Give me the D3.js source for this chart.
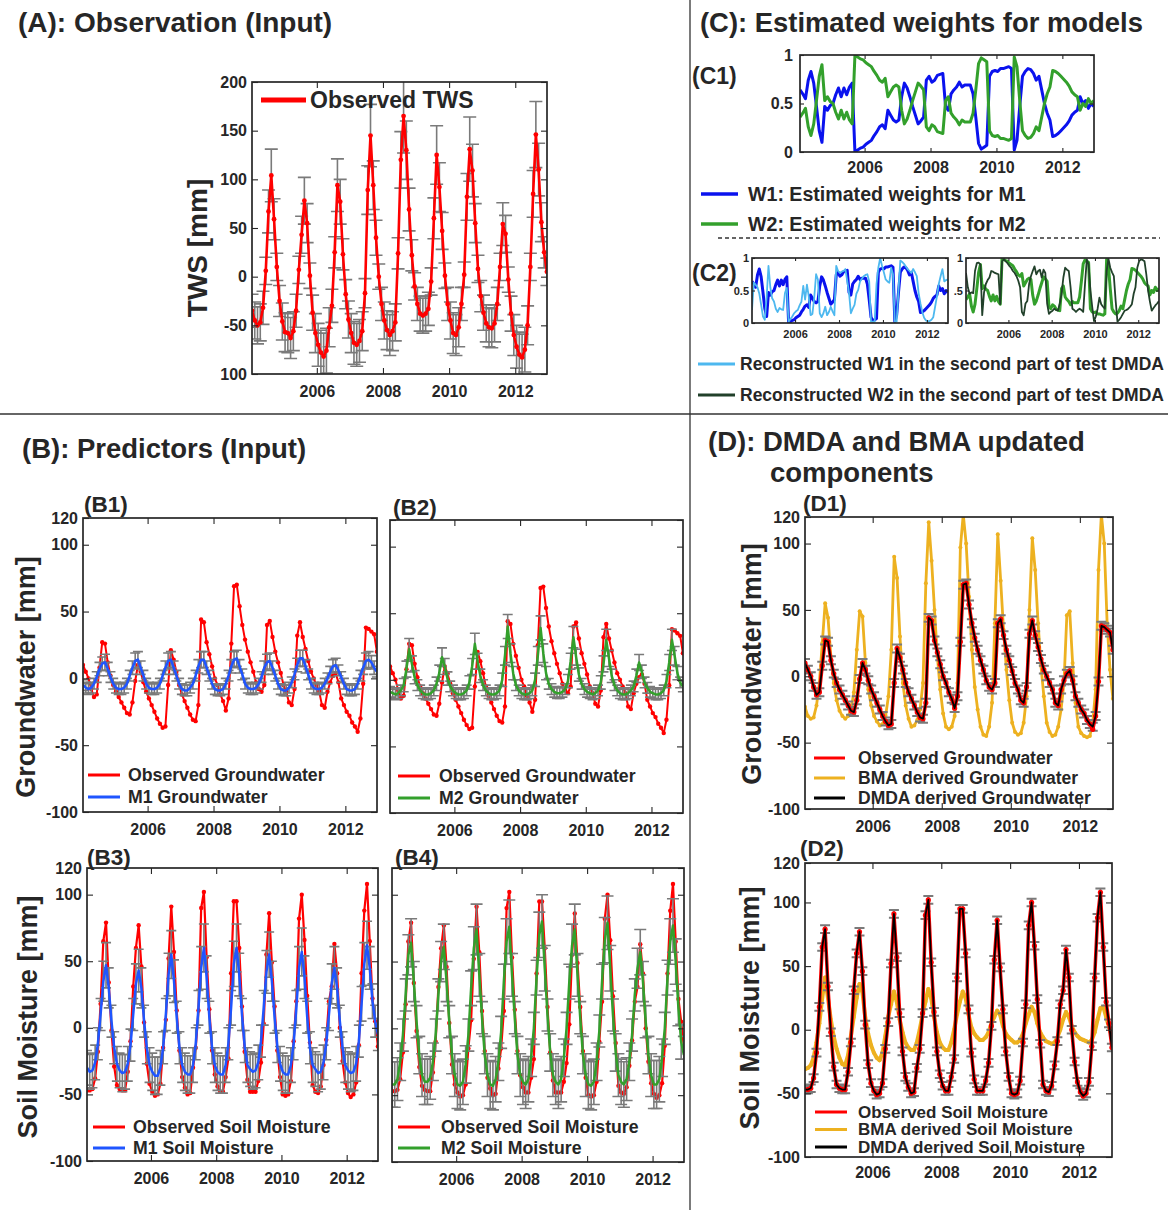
<!DOCTYPE html>
<html><head><meta charset="utf-8">
<script src="https://cdn.jsdelivr.net/npm/d3@7"></script>
<style>
body{margin:0;background:#fff}
text{font-family:"Liberation Sans",Arial,Helvetica,sans-serif;font-weight:bold;fill:#262626}
</style>
</head><body>
<svg id="c" width="1172" height="1210"></svg>
<script>
// ---------------- DATA (monthly, Jan 2004 .. Dec 2012) ----------------
const xDomain = [2004.04, 2012.96];
const xTickYears = [2006, 2008, 2010, 2012];

const twsObs = [
 -35,-45,-50,-47,-32,6,67,104,59,10,-25,-46,
 -57,-58,-63,-56,-35,7,43,78,55,1,-37,-58,
 -70,-78,-82,-76,-52,-30,25,94,77,23,-18,-44,
 -58,-68,-70,-66,-56,-17,89,145,94,40,0,-28,
 -45,-55,-60,-56,-47,24,120,165,130,69,22,-10,
 -28,-38,-40,-38,-33,-5,60,125,92,47,1,-28,
 -45,-58,-60,-52,-28,2,82,131,109,55,8,-20,
 -37,-48,-52,-53,-48,-28,10,54,44,-3,-38,-60,
 -72,-80,-83,-75,-50,10,85,146,110,56,25,5];
const twsErr = [
 17,19,19,19,17,14,22,27,21,14,16,19,
 20,20,21,20,17,14,19,24,20,13,18,20,
 22,23,24,23,20,17,16,27,23,16,15,19,
 20,22,22,22,20,15,25,32,25,18,13,17,
 19,20,21,20,19,16,29,38,30,22,16,14,
 17,18,18,18,17,14,21,30,25,19,13,17,
 19,21,21,20,17,13,24,33,27,20,14,16,
 18,19,20,20,19,17,14,22,19,13,18,21,
 22,23,24,23,20,14,24,34,27,20,16,14];

const gwObs = [
 10,5,0,-8,-14,-12,8,27,26,12,2,-5,
 -10,-14,-18,-22,-26,-27,-18,-2,10,5,-3,-10,
 -15,-20,-25,-30,-34,-37,-36,-5,21,14,5,-5,
 -12,-17,-22,-27,-31,-32,-20,44,42,27,18,9,
 0,-5,-12,-17,-24,-15,26,69,70,54,40,29,
 20,12,5,-3,-8,-10,-5,40,43,31,20,12,
 4,-5,-10,-18,-20,-8,32,42,31,22,13,5,
 0,-5,-10,-20,-22,-10,-3,2,4,-3,-15,-20,
 -25,-28,-33,-36,-40,-30,-4,38,37,35,33,20];
const gwM1 = [
 -5,-7,-8,-7,-4,1,7,11,12,7,1,-4,
 -7,-8,-8,-7,-4,2,8,13,14,8,2,-4,
 -7,-8,-8,-7,-4,2,8,13,14,8,2,-4,
 -8,-9,-9,-7,-4,2,9,14,14,8,2,-4,
 -8,-9,-9,-8,-4,2,9,14,15,9,3,-4,
 -7,-8,-8,-7,-4,1,8,12,13,8,2,-4,
 -8,-9,-9,-7,-3,3,10,15,15,9,3,-4,
 -7,-8,-8,-7,-4,0,5,9,10,6,1,-4,
 -8,-9,-9,-8,-4,2,8,13,14,12,8,5];
const gwM1Err = [
 4,4,4,4,4,4,5,5,6,5,4,4,
 4,4,4,4,4,4,5,6,6,5,4,4,
 4,4,4,4,4,4,5,6,6,5,4,4,
 4,4,4,4,4,4,5,6,6,5,4,4,
 4,4,4,4,4,4,5,6,6,5,4,4,
 4,4,4,4,4,4,5,6,6,5,4,4,
 4,4,4,4,4,4,5,6,6,5,4,4,
 4,4,4,4,4,4,4,5,5,4,4,4,
 4,4,4,4,4,4,5,6,6,5,5,4];
const gwM2 = [
 -9,-10,-11,-10,-8,-4,8,23,12,2,-4,-8,
 -10,-11,-11,-10,-8,-3,5,17,10,1,-5,-8,
 -10,-11,-11,-10,-8,-2,10,27,14,3,-4,-8,
 -10,-11,-11,-10,-8,0,18,40,20,5,-4,-8,
 -10,-11,-11,-10,-8,0,18,39,20,5,-3,-7,
 -9,-10,-10,-9,-7,-1,14,32,17,4,-3,-7,
 -9,-10,-11,-10,-8,-2,12,30,16,3,-4,-8,
 -10,-11,-11,-10,-8,-5,3,13,6,-2,-6,-9,
 -10,-11,-11,-10,-8,-1,13,30,18,5,-2,-5];
const gwM2Err = [
 4,4,4,4,4,5,6,8,6,5,4,4,
 4,4,4,4,4,5,6,7,6,5,4,4,
 4,4,4,4,4,5,6,8,6,5,4,4,
 4,4,4,4,4,5,7,9,7,5,4,4,
 4,4,4,4,4,5,7,9,7,5,4,4,
 4,4,4,4,4,5,6,8,6,5,4,4,
 4,4,4,4,4,5,6,8,6,5,4,4,
 4,4,4,4,4,4,5,6,5,4,4,4,
 4,4,4,4,4,5,6,8,7,5,4,4];

const smObs = [
 -47,-47,-46,-38,-18,18,65,79,34,-2,-29,-43,
 -46,-47,-47,-33,-10,31,60,77,46,4,-27,-42,
 -48,-51,-50,-42,-15,6,52,91,57,13,-17,-37,
 -45,-50,-49,-30,-15,13,90,102,53,14,-17,-35,
 -44,-48,-48,-37,-23,41,95,95,60,16,-18,-39,
 -48,-48,-48,-40,-26,3,55,86,49,16,-17,-37,
 -50,-51,-50,-40,-10,20,82,100,66,24,-11,-43,
 -48,-49,-44,-28,-9,20,31,63,41,0,-25,-41,
 -49,-52,-50,-41,-13,41,88,108,65,22,5,-14];
const smM1 = [
 -30,-33,-32,-26,-12,10,35,47,30,5,-15,-27,
 -32,-34,-33,-27,-13,10,33,43,30,5,-15,-28,
 -33,-36,-36,-30,-15,10,40,55,35,8,-15,-28,
 -33,-35,-35,-28,-12,15,45,60,38,8,-15,-28,
 -33,-35,-35,-28,-12,15,48,60,40,10,-14,-28,
 -31,-33,-32,-26,-10,15,42,55,35,8,-14,-27,
 -33,-35,-35,-28,-12,15,45,57,38,8,-15,-28,
 -31,-34,-33,-26,-12,10,33,45,30,5,-15,-28,
 -32,-34,-33,-27,-10,18,48,62,45,20,5,-5];
const smM1Err = [
 13,13,13,13,12,12,15,17,15,12,12,13,
 13,14,13,13,12,12,15,16,15,12,12,13,
 14,14,14,13,12,12,16,18,16,12,12,13,
 14,14,14,13,12,13,16,18,16,12,12,13,
 14,14,14,13,12,13,17,18,16,12,12,13,
 13,13,13,13,12,13,16,17,15,12,12,13,
 14,14,14,13,12,13,16,18,16,12,12,13,
 13,14,13,13,12,12,15,16,15,12,12,13,
 14,14,14,13,12,13,16,18,16,13,12,12];
const smM2 = [
 -42,-42,-38,-25,-5,25,55,64,35,5,-20,-35,
 -40,-40,-37,-25,-5,25,50,61,35,5,-20,-35,
 -42,-43,-40,-27,-5,30,60,74,40,8,-20,-35,
 -42,-43,-38,-25,-3,35,65,76,40,8,-20,-35,
 -40,-42,-38,-22,0,38,70,80,45,10,-18,-35,
 -40,-42,-38,-22,0,35,62,74,40,8,-20,-35,
 -42,-43,-40,-25,-2,35,66,79,45,10,-18,-35,
 -40,-42,-38,-25,-5,25,45,57,35,5,-20,-35,
 -42,-42,-38,-22,0,38,65,77,50,15,-10,-20];
const smM2Err = [
 17,17,16,14,12,12,15,18,15,12,14,16,
 17,17,16,14,12,12,15,17,15,12,14,16,
 18,18,17,14,12,13,16,19,16,12,14,16,
 18,18,17,14,12,13,17,20,16,12,14,16,
 17,18,17,14,12,13,17,20,17,12,14,16,
 17,18,17,14,12,13,16,19,16,12,14,16,
 18,18,17,14,12,13,17,20,17,12,14,16,
 17,17,16,14,12,12,15,17,15,12,14,16,
 18,18,17,14,12,13,17,20,17,13,13,14];

const w1 = [
 0.64,0.60,0.55,0.74,0.83,0.71,0.47,0.22,0.10,0.47,0.43,0.48,
 0.50,0.59,0.66,0.57,0.66,0.59,0.67,0.71,0.00,0.02,0.04,0.05,
 0.08,0.10,0.12,0.17,0.21,0.26,0.28,0.24,0.43,0.38,0.33,0.31,
 0.33,0.57,0.71,0.66,0.57,0.47,0.38,0.29,0.32,0.36,0.74,0.78,
 0.72,0.74,0.79,0.80,0.81,0.47,0.43,0.60,0.64,0.67,0.72,0.67,
 0.69,0.69,0.69,0.60,0.36,0.09,0.03,0.05,0.07,0.78,0.83,0.84,
 0.83,0.86,0.86,0.87,0.88,0.86,0.02,0.12,0.47,0.78,0.83,0.86,
 0.85,0.81,0.74,0.78,0.64,0.50,0.40,0.33,0.16,0.17,0.19,0.22,
 0.25,0.28,0.32,0.38,0.41,0.43,0.57,0.50,0.53,0.45,0.50,0.47];
const w2 = [
 0.36,0.40,0.45,0.26,0.17,0.29,0.53,0.78,0.90,0.53,0.57,0.52,
 0.50,0.41,0.34,0.43,0.34,0.41,0.33,0.29,1.00,0.98,0.96,0.95,
 0.92,0.90,0.88,0.83,0.79,0.74,0.72,0.76,0.57,0.62,0.67,0.69,
 0.67,0.43,0.29,0.34,0.43,0.53,0.62,0.71,0.68,0.64,0.26,0.22,
 0.28,0.26,0.21,0.20,0.19,0.53,0.57,0.40,0.36,0.33,0.28,0.33,
 0.31,0.31,0.31,0.40,0.64,0.91,0.97,0.95,0.93,0.22,0.17,0.16,
 0.17,0.14,0.14,0.13,0.12,0.14,0.98,0.88,0.53,0.22,0.17,0.14,
 0.15,0.19,0.26,0.22,0.36,0.50,0.60,0.67,0.84,0.83,0.81,0.78,
 0.75,0.72,0.68,0.62,0.59,0.57,0.43,0.50,0.47,0.55,0.50,0.53];
const w1Rec = [
 0.20,0.62,0.59,0.55,0.45,0.28,0.10,0.05,0.40,0.88,0.55,0.38,
 0.33,0.22,0.17,0.23,0.21,0.20,0.46,0.54,0.02,0.06,0.10,0.15,
 0.18,0.20,0.27,0.33,0.57,0.36,0.59,0.41,0.12,0.14,0.40,0.75,
 0.67,0.15,0.09,0.15,0.25,0.12,0.17,0.25,0.18,0.12,0.88,0.80,
 0.77,0.79,0.80,0.83,0.65,0.46,0.15,0.22,0.28,0.45,0.51,0.64,
 0.68,0.72,0.74,0.75,0.64,0.02,0.02,0.02,0.60,0.85,1.00,0.88,
 0.78,0.67,0.64,0.62,0.85,0.75,0.02,0.02,0.50,0.96,0.94,0.91,
 0.87,0.83,0.80,0.77,0.83,0.78,0.72,0.46,0.30,0.17,0.08,0.04,
 0.03,0.03,0.05,0.09,0.25,0.41,0.60,0.72,0.83,0.64,0.66,0.67];
const w2Rec = [
 0.77,0.55,0.45,0.47,0.46,0.80,0.92,0.93,0.90,0.12,0.47,0.60,
 0.66,0.70,0.80,0.79,0.77,0.76,0.75,0.29,0.95,0.98,0.95,0.92,
 0.88,0.85,0.80,0.77,0.72,0.65,0.55,0.17,0.12,0.30,0.34,0.60,
 0.72,0.80,0.87,0.75,0.80,0.82,0.70,0.82,0.77,0.30,0.14,0.17,
 0.19,0.22,0.20,0.19,0.30,0.45,0.70,0.85,0.82,0.80,0.55,0.22,
 0.20,0.17,0.20,0.22,0.20,0.17,0.60,0.98,0.90,0.50,0.25,0.03,
 0.10,0.22,0.39,0.29,0.25,0.22,0.80,0.99,0.85,0.78,0.72,0.34,
 0.02,0.05,0.09,0.14,0.19,0.20,0.22,0.25,0.29,0.45,0.55,0.85,
 0.95,0.98,0.97,0.95,0.75,0.50,0.33,0.19,0.23,0.27,0.30,0.34];

const gwBMA = [
 -23,-30,-32,-31,-22,-5,25,55,44,15,-5,-18,
 -26,-30,-32,-30,-25,-12,20,49,45,10,-10,-22,
 -30,-34,-37,-36,-30,-15,20,90,74,30,-5,-22,
 -32,-38,-37,-33,-25,-5,70,116,87,50,15,-10,
 -28,-38,-40,-38,-30,-5,97,122,100,60,20,-8,
 -25,-38,-44,-45,-38,-20,40,107,72,35,5,-18,
 -35,-42,-44,-43,-35,-15,50,104,80,40,8,-15,
 -35,-42,-45,-44,-38,-25,-5,46,49,10,-20,-38,
 -43,-45,-46,-45,-35,-10,80,122,100,40,5,-17];
const gwDMDA = [
 10,5,0,-8,-14,-12,8,27,26,12,2,-5,
 -10,-14,-18,-22,-26,-27,-18,-2,10,5,-3,-10,
 -15,-20,-25,-30,-34,-37,-36,-5,21,14,5,-5,
 -12,-17,-22,-27,-31,-32,-20,44,42,27,18,9,
 0,-5,-12,-17,-24,-15,26,69,70,54,40,29,
 20,12,5,-3,-8,-10,-5,40,43,31,20,12,
 4,-5,-10,-18,-20,-8,32,42,31,22,13,5,
 0,-5,-10,-20,-22,-10,-3,2,4,-3,-15,-20,
 -25,-28,-33,-36,-38,-30,-4,38,37,35,33,20];
const gwDMDAErr = [
 3,3,3,3,3,3,3,3,3,3,3,3,
 3,3,3,3,3,3,3,3,3,3,3,3,
 3,3,3,3,3,3,3,3,3,3,3,3,
 3,3,3,3,3,3,3,3,3,3,3,3,
 3,3,3,3,3,3,3,3,3,3,3,3,
 3,3,3,3,3,3,3,3,3,3,3,3,
 3,3,3,3,3,3,3,3,3,3,3,3,
 3,3,3,3,3,3,3,3,3,3,3,3,
 3,3,3,3,3,3,3,3,3,3,3,3];
const smBMA = [
 -31,-30,-28,-22,-10,5,25,41,25,8,-5,-15,
 -22,-27,-28,-20,-5,10,25,36,30,10,-3,-12,
 -18,-22,-24,-18,-5,10,20,30,22,8,-2,-10,
 -14,-16,-16,-10,0,12,22,32,25,10,-2,-10,
 -14,-16,-16,-10,0,12,22,30,25,12,2,-3,
 -6,-8,-8,-6,-2,5,10,15,12,3,-3,-6,
 -8,-10,-10,-8,-3,5,12,18,14,5,-2,-6,
 -9,-10,-11,-10,-6,0,8,14,10,3,-2,-5,
 -7,-8,-9,-10,-8,-2,8,17,18,10,2,-5];
const smDMDA = [
 -47,-47,-46,-38,-18,18,65,79,34,-2,-29,-43,
 -46,-47,-47,-33,-10,31,60,77,46,4,-27,-42,
 -48,-51,-50,-42,-15,6,52,91,57,13,-17,-37,
 -45,-50,-49,-30,-15,13,90,102,53,14,-17,-35,
 -44,-48,-48,-37,-23,41,95,95,60,16,-18,-39,
 -48,-48,-48,-40,-26,3,55,86,49,16,-17,-37,
 -50,-51,-50,-40,-10,20,82,100,66,24,-11,-43,
 -48,-49,-44,-28,-9,20,31,63,41,0,-25,-41,
 -49,-52,-50,-41,-13,41,88,108,65,22,5,-14];
const smDMDAErr = [
 3,3,3,3,3,3,3,3,3,3,3,3,
 3,3,3,3,3,3,3,3,3,3,3,3,
 3,3,3,3,3,3,3,3,3,3,3,3,
 3,3,3,3,3,3,3,3,3,3,3,3,
 3,3,3,3,3,3,3,3,3,3,3,3,
 3,3,3,3,3,3,3,3,3,3,3,3,
 3,3,3,3,3,3,3,3,3,3,3,3,
 3,3,3,3,3,3,3,3,3,3,3,3,
 3,3,3,3,3,3,3,3,3,3,3,3];

// ---------------- COLOURS ----------------
const RED = "#ff0000", M1BLUE = "#1f55ff", W1BLUE = "#0a12ee", GREEN = "#33a02c",
      LBLUE = "#4db8ef", DGREEN = "#21402a", ORANGE = "#edb120", GRAY = "#7a7a7a", INK = "#262626";

// ---------------- HELPERS ----------------
const svg = d3.select("#c");
const months = d3.range(twsObs.length).map(i => xDomain[0] + i / 12);
let clipN = 0;

function panel(o) {
  const x = d3.scaleLinear().domain(xDomain).range([o.x0, o.x1]);
  const y = d3.scaleLinear().domain(o.yDomain).range([o.y1, o.y0]);
  const id = "clip" + (clipN++);
  svg.append("clipPath").attr("id", id).append("rect")
    .attr("x", o.x0).attr("y", o.y0).attr("width", o.x1 - o.x0).attr("height", o.y1 - o.y0);
  const g = svg.append("g").attr("clip-path", `url(#${id})`);
  return {x, y, g, o};
}

function styleAxis(g, fs, keepText) {
  g.select(".domain").remove();
  g.selectAll(".tick line").attr("stroke", INK).attr("stroke-width", 1.1);
  if (!keepText) g.selectAll(".tick text").remove();
  else g.selectAll(".tick text").attr("fill", INK)
      .style("font-size", fs + "px").style("font-weight", "bold")
      .style("font-family", '"Liberation Sans",Arial,sans-serif');
}

function frame(p) {
  const {x, y, o} = p;
  const fmtY = v => o.yLabels[o.yTicks.indexOf(v)];
  const tl = o.tl || 6;
  styleAxis(svg.append("g").attr("transform", `translate(0,${o.y1})`)
    .call(d3.axisBottom(x).tickValues(xTickYears).tickSize(-tl).tickPadding(o.xPad).tickFormat(d3.format("d"))), o.xfs, true);
  styleAxis(svg.append("g").attr("transform", `translate(0,${o.y0})`)
    .call(d3.axisTop(x).tickValues(xTickYears).tickSize(-tl)), 0, false);
  styleAxis(svg.append("g").attr("transform", `translate(${o.x0},0)`)
    .call(d3.axisLeft(y).tickValues(o.yTicks).tickSize(-tl).tickPadding(o.yPad).tickFormat(fmtY)), o.yfs, o.showY !== false);
  styleAxis(svg.append("g").attr("transform", `translate(${o.x1},0)`)
    .call(d3.axisRight(y).tickValues(o.yTicks).tickSize(-tl)), 0, false);
  svg.append("rect").attr("x", o.x0).attr("y", o.y0)
    .attr("width", o.x1 - o.x0).attr("height", o.y1 - o.y0)
    .attr("fill", "none").attr("stroke", INK).attr("stroke-width", 1.7);
}

function series(p, vals, color, width, dotR) {
  const gen = d3.line().x((d, i) => p.x(months[i])).y(d => p.y(d));
  p.g.append("path").attr("d", gen(vals)).attr("fill", "none")
    .attr("stroke", color).attr("stroke-width", width).attr("stroke-linejoin", "round");
  if (dotR) {
    p.g.append("g").selectAll("circle").data(vals).join("circle")
      .attr("cx", (d, i) => p.x(months[i])).attr("cy", d => p.y(d))
      .attr("r", dotR).attr("fill", color);
  }
}

function errorBars(p, vals, errs, cw, width) {
  p.g.append("g").selectAll("path").data(vals).join("path")
    .attr("d", (d, i) => {
      const xx = p.x(months[i]), lo = p.y(d - errs[i]), hi = p.y(d + errs[i]);
      return `M${xx},${lo}V${hi}M${xx - cw},${hi}H${xx + cw}M${xx - cw},${lo}H${xx + cw}`;
    })
    .attr("fill", "none").attr("stroke", GRAY).attr("stroke-width", width);
}

function legend(items, o) {
  items.forEach((it, k) => {
    const yy = o.y + k * o.dy;
    svg.append("line").attr("x1", o.x).attr("x2", o.x + o.len).attr("y1", yy).attr("y2", yy)
      .attr("stroke", it.color).attr("stroke-width", o.lw);
    svg.append("text").attr("x", o.tx).attr("y", yy).attr("dy", "0.35em")
      .style("font-size", o.fs + "px").text(it.label);
  });
}

function label(txt, xx, yy, fs, anchor) {
  svg.append("text").attr("x", xx).attr("y", yy).attr("dy", "0.35em")
    .attr("text-anchor", anchor || "start").style("font-size", fs + "px").text(txt);
}
function vlabel(txt, cx, cy, fs) {
  svg.append("text").attr("transform", `translate(${cx},${cy}) rotate(-90)`)
    .attr("text-anchor", "middle").attr("dy", "0.35em").style("font-size", fs + "px").text(txt);
}

// ---------------- DIVIDERS & TITLES ----------------
svg.append("line").attr("x1", 690).attr("x2", 690).attr("y1", 0).attr("y2", 1210).attr("stroke", "#333").attr("stroke-width", 1.3);
svg.append("line").attr("x1", 0).attr("x2", 1168).attr("y1", 414).attr("y2", 414).attr("stroke", "#333").attr("stroke-width", 1.3);
svg.append("line").attr("x1", 718).attr("x2", 1160).attr("y1", 238).attr("y2", 238)
  .attr("stroke", "#333").attr("stroke-width", 1.3).attr("stroke-dasharray", "4,3");

label("(A): Observation (Input)", 18, 22, 28);
label("(C): Estimated weights for models", 700, 22, 27.4);
label("(B): Predictors (Input)", 22, 448, 27.5);
label("(D): DMDA and BMA updated", 708, 441, 27.5);
label("components", 770, 472, 27.5);

const gwTicks = [-100, -50, 0, 50, 100, 120];
const gwTickLabels = ["-100", "-50", "0", "50", "100", "120"];

// ---------------- PANEL A ----------------
const pA = panel({x0: 252, x1: 547, y0: 82, y1: 374, yDomain: [-100, 200],
  yTicks: [-100, -50, 0, 50, 100, 150, 200], yLabels: ["100", "-50", "0", "50", "100", "150", "200"],
  xPad: 12, yPad: 5, xfs: 16, yfs: 16});
errorBars(pA, twsObs, twsErr, 6.5, 1.6);
series(pA, twsObs, RED, 2.6, 2.4);
frame(pA);
vlabel("TWS [mm]", 197, 248, 28);
legend([{label: "Observed TWS", color: RED}], {x: 261, tx: 310, y: 100, dy: 0, len: 45, lw: 5, fs: 23});

// ---------------- PANEL C1 ----------------
const pC1 = panel({x0: 800, x1: 1094, y0: 55, y1: 152, yDomain: [0, 1],
  yTicks: [0, 0.5, 1], yLabels: ["0", "0.5", "1"], xPad: 10, yPad: 7, xfs: 16, yfs: 16, tl: 4});
series(pC1, w1, W1BLUE, 3);
series(pC1, w2, GREEN, 3);
frame(pC1);
label("(C1)", 692, 76, 23);
legend([{label: "W1: Estimated weights for M1", color: W1BLUE},
        {label: "W2: Estimated weights for M2", color: GREEN}],
  {x: 701, tx: 748, y: 194, dy: 30, len: 37, lw: 3.5, fs: 19.6});

// ---------------- PANEL C2 ----------------
const pC2L = panel({x0: 752, x1: 948, y0: 258, y1: 323, yDomain: [0, 1],
  yTicks: [0, 0.5, 1], yLabels: ["0", "0.5", "1"], xPad: 7, yPad: 3, xfs: 11, yfs: 11, tl: 3});
series(pC2L, w1, W1BLUE, 3);
series(pC2L, w1Rec, LBLUE, 1.8);
frame(pC2L);
const pC2R = panel({x0: 966, x1: 1159, y0: 258, y1: 323, yDomain: [0, 1],
  yTicks: [0, 0.5, 1], yLabels: ["0", ".5", "1"], xPad: 7, yPad: 3, xfs: 11, yfs: 11, tl: 3});
series(pC2R, w2, GREEN, 3);
series(pC2R, w2Rec, DGREEN, 1.8);
frame(pC2R);
label("(C2)", 692, 273, 23);
legend([{label: "Reconstructed W1 in the second part of test DMDA", color: LBLUE},
        {label: "Reconstructed W2 in the second part of test DMDA", color: DGREEN}],
  {x: 698, tx: 740, y: 364, dy: 31, len: 37, lw: 3, fs: 17.5});

// ---------------- PANELS B ----------------
const bOpts = {yDomain: [-100, 120], yTicks: gwTicks, yLabels: gwTickLabels, xPad: 12, yPad: 5, xfs: 16, yfs: 16};
const pB1 = panel(Object.assign({x0: 83, x1: 377, y0: 518, y1: 812}, bOpts));
series(pB1, gwObs, RED, 2, 2.2);
errorBars(pB1, gwM1, gwM1Err, 5, 1.6);
series(pB1, gwM1, M1BLUE, 2.5);
frame(pB1);
label("(B1)", 84, 504, 22.5);
vlabel("Groundwater [mm]", 26, 677, 27);
legend([{label: "Observed Groundwater", color: RED}, {label: "M1 Groundwater", color: M1BLUE}],
  {x: 88, tx: 128, y: 775, dy: 22, len: 32, lw: 3, fs: 17.7});

const pB2 = panel(Object.assign({x0: 390, x1: 683, y0: 520, y1: 813, showY: false}, bOpts));
series(pB2, gwObs, RED, 2, 2.2);
errorBars(pB2, gwM2, gwM2Err, 5, 1.6);
series(pB2, gwM2, GREEN, 2.5);
frame(pB2);
label("(B2)", 393, 507, 22.5);
legend([{label: "Observed Groundwater", color: RED}, {label: "M2 Groundwater", color: GREEN}],
  {x: 398, tx: 439, y: 776, dy: 22, len: 32, lw: 3, fs: 17.7});

const pB3 = panel(Object.assign({x0: 87, x1: 378, y0: 868, y1: 1161}, bOpts));
series(pB3, smObs, RED, 2.2, 2.2);
errorBars(pB3, smM1, smM1Err, 5, 1.6);
series(pB3, smM1, M1BLUE, 2.5);
frame(pB3);
label("(B3)", 87, 857, 22.5);
vlabel("Soil Moisture [mm]", 28, 1017, 27);
legend([{label: "Observed Soil Moisture", color: RED}, {label: "M1 Soil Moisture", color: M1BLUE}],
  {x: 93, tx: 133, y: 1127, dy: 21, len: 32, lw: 3, fs: 17.7});

const pB4 = panel(Object.assign({x0: 392, x1: 684, y0: 868, y1: 1162, showY: false}, bOpts));
series(pB4, smObs, RED, 2.2, 2.2);
errorBars(pB4, smM2, smM2Err, 6, 1.6);
series(pB4, smM2, GREEN, 2.5);
frame(pB4);
label("(B4)", 395, 857, 22.5);
legend([{label: "Observed Soil Moisture", color: RED}, {label: "M2 Soil Moisture", color: GREEN}],
  {x: 398, tx: 441, y: 1127, dy: 21, len: 32, lw: 3, fs: 17.7});

// ---------------- PANELS D ----------------
const pD1 = panel({x0: 805, x1: 1113, y0: 517, y1: 809, yDomain: [-100, 120],
  yTicks: gwTicks, yLabels: gwTickLabels, xPad: 12, yPad: 5, xfs: 16, yfs: 16});
series(pD1, gwBMA, ORANGE, 2.8, 2);
errorBars(pD1, gwDMDA, gwDMDAErr, 5, 2);
series(pD1, gwObs, RED, 3.5, 2.6);
series(pD1, gwDMDA, "#000", 1.8);
frame(pD1);
label("(D1)", 803, 503, 22.5);
vlabel("Groundwater [mm]", 752, 664, 27);
legend([{label: "Observed Groundwater", color: RED}, {label: "BMA derived Groundwater", color: ORANGE},
        {label: "DMDA derived Groundwater", color: "#000"}],
  {x: 814, tx: 858, y: 758, dy: 20, len: 31, lw: 3, fs: 17.5});

const pD2 = panel({x0: 805, x1: 1112, y0: 863, y1: 1157, yDomain: [-100, 131],
  yTicks: [-100, -50, 0, 50, 100, 131], yLabels: ["-100", "-50", "0", "50", "100", "120"],
  xPad: 10, yPad: 5, xfs: 16, yfs: 16});
series(pD2, smBMA, ORANGE, 4, 2);
errorBars(pD2, smDMDA, smDMDAErr, 5, 2);
series(pD2, smObs, RED, 3.5, 2.6);
series(pD2, smDMDA, "#000", 1.8);
frame(pD2);
label("(D2)", 800, 848, 22.5);
vlabel("Soil Moisture [mm]", 750, 1008, 27);
legend([{label: "Observed Soil Moisture", color: RED}, {label: "BMA derived Soil Moisture", color: ORANGE},
        {label: "DMDA derived Soil Moisture", color: "#000"}],
  {x: 815, tx: 858, y: 1112, dy: 17.5, len: 32, lw: 3, fs: 17});
</script>
</body></html>
